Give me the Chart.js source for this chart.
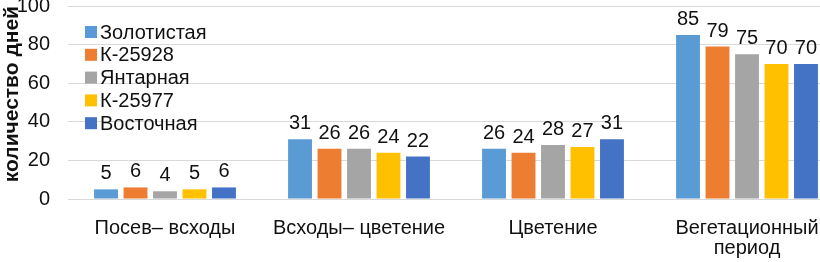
<!DOCTYPE html>
<html>
<head>
<meta charset="utf-8">
<script src="https://cdn.jsdelivr.net/npm/chart.js@4"></script>
<style>
  html, body { margin: 0; padding: 0; background: #fff; overflow: hidden; }
  #wrap { width: 850px; height: 262px; }
</style>
</head>
<body>
<div id="wrap"><canvas id="myChart"></canvas></div>
<script>
// categories (x axis) and varieties (series)
var categories = ["Посев– всходы", "Всходы– цветение", "Цветение", ["Вегетационный", "период"]];
var seriesNames = ["Золотистая", "К-25928", "Янтарная", "К-25977", "Восточная"];
var seriesColors = ["#5B9BD5", "#ED7D31", "#A5A5A5", "#FFC000", "#4472C4"];

// days per stage, one array per variety
var zolotistaya = [5, 31, 26, 85];
var k25928 = [6, 26, 24, 79];
var yantarnaya = [4, 26, 28, 75];
var k25977 = [5, 24, 27, 70];
var vostochnaya = [6, 22, 31, 70];
var seriesValues = [zolotistaya, k25928, yantarnaya, k25977, vostochnaya];

var yTicks = [0, 20, 40, 60, 80, 100];
var yTitle = "количество дней";

var fontFamily = "'Liberation Sans', Arial, sans-serif";
var textColor = "#111";

// draw the value above every bar
var valueLabels = {
  id: 'valueLabels',
  afterDatasetsDraw: function(chart) {
    var ctx = chart.ctx;
    ctx.save();
    ctx.font = "20px " + fontFamily;
    ctx.fillStyle = textColor;
    ctx.textAlign = 'center';
    ctx.textBaseline = 'alphabetic';
    chart.data.datasets.forEach(function(ds, i) {
      chart.getDatasetMeta(i).data.forEach(function(bar, j) {
        ctx.fillText(ds.data[j], bar.x, bar.y - 10);
      });
    });
    ctx.restore();
  }
};

// vertical legend inside the plot, top left
var innerLegend = {
  id: 'innerLegend',
  afterDraw: function(chart) {
    var ctx = chart.ctx;
    ctx.save();
    ctx.font = "20px " + fontFamily;
    ctx.textBaseline = 'middle';
    chart.data.datasets.forEach(function(ds, i) {
      var y = 32 + i * 22.8;
      ctx.fillStyle = ds.backgroundColor;
      ctx.fillRect(85, y - 6, 12, 12);
      ctx.fillStyle = textColor;
      ctx.fillText(ds.label, 100, y + 1);
    });
    ctx.restore();
  }
};

var ctx = document.getElementById('myChart').getContext('2d');

var myChart = new Chart(ctx, {
  type: 'bar',
  data: {
    labels: categories,
    datasets: seriesNames.map(function(name, i) {
      return {
        label: name,
        data: seriesValues[i],
        backgroundColor: seriesColors[i],
        categoryPercentage: 0.76,
        barPercentage: 0.81
      };
    })
  },
  options: {
    responsive: true,
    maintainAspectRatio: false,
    animation: false,
    layout: { padding: { top: 6, right: 6, left: 0, bottom: 0 } },
    plugins: {
      legend: { display: false },
      tooltip: { enabled: false }
    },
    scales: {
      x: {
        grid: { display: false },
        border: { display: true, color: '#d9d9d9', width: 1 },
        ticks: {
          color: textColor,
          padding: 11,
          maxRotation: 0,
          autoSkip: false,
          font: { family: fontFamily, size: 20, lineHeight: 1.0 }
        },
        afterFit: function(scale) { scale.height = 63; }
      },
      y: {
        min: 0,
        max: 100,
        afterBuildTicks: function(scale) {
          scale.ticks = yTicks.map(function(v) { return { value: v }; });
        },
        grid: { color: '#d9d9d9', drawTicks: false },
        border: { display: false },
        ticks: {
          color: textColor,
          padding: 18,
          font: { family: fontFamily, size: 20 }
        },
        title: {
          display: true,
          text: yTitle,
          align: 'end',
          color: textColor,
          padding: 0,
          font: { family: fontFamily, size: 21, weight: 'bold' }
        },
        afterFit: function(scale) {
          scale.width = 68;
          scale.paddingTop = 0;
          scale.paddingBottom = 0;
        }
      }
    }
  },
  plugins: [valueLabels, innerLegend]
});
</script>
</body>
</html>
